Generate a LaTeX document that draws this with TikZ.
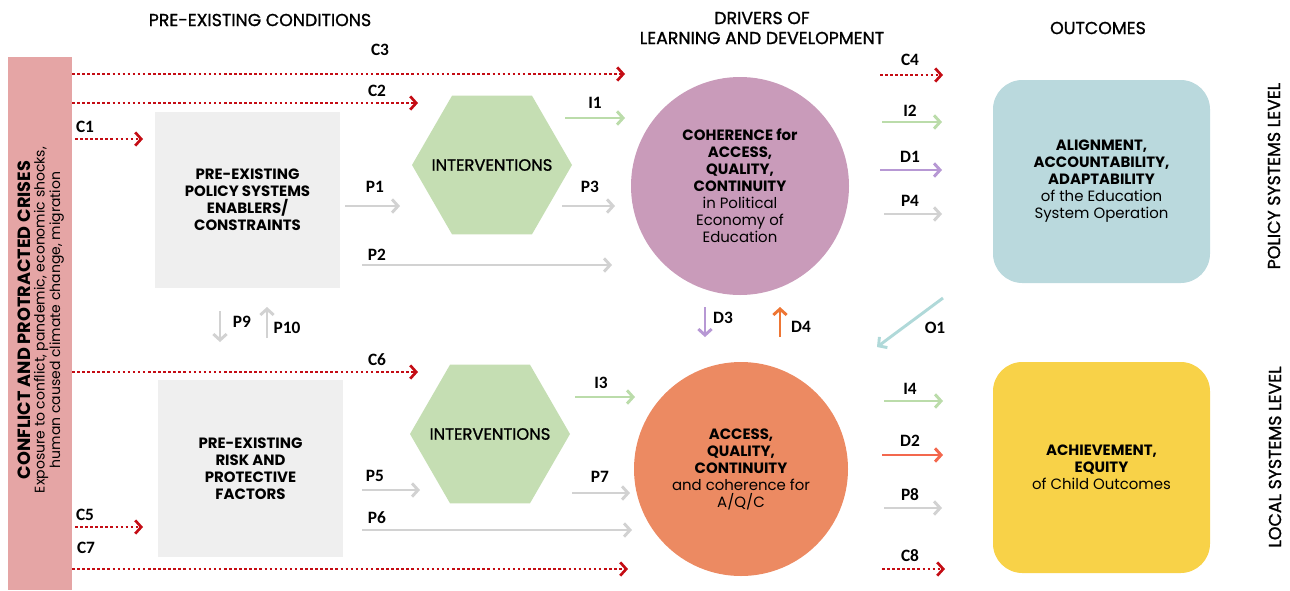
\documentclass[tikz,border=0pt]{standalone}
\usepackage{fontspec}
\setmainfont{Poppins}
\newfontfamily\medfont{Poppins}[FakeBold=1.2]
\newfontfamily\lblfont{Carlito}
\usetikzlibrary{arrows.meta,shapes.geometric}

\definecolor{crisisred}{RGB}{196,12,20}
\definecolor{barpink}{RGB}{229,165,165}
\definecolor{boxgray}{RGB}{239,239,239}
\definecolor{hexgreen}{RGB}{197,222,179}
\definecolor{cohpurple}{RGB}{201,155,186}
\definecolor{accorange}{RGB}{236,138,98}
\definecolor{outblue}{RGB}{186,217,221}
\definecolor{outyellow}{RGB}{248,210,72}
\definecolor{arrgray}{RGB}{210,210,210}
\definecolor{arrgreen}{RGB}{187,220,170}
\definecolor{arrpurple}{RGB}{183,152,212}
\definecolor{arrcoral}{RGB}{243,104,78}
\definecolor{arrorange}{RGB}{238,118,52}
\definecolor{arrteal}{RGB}{176,217,217}

\tikzset{
  txt/.style={align=center, inner sep=0pt, font=\fontsize{11.2}{12.75}\selectfont},
  head/.style={align=center, font=\medfont\fontsize{13}{15}\selectfont},
  lbl/.style={inner sep=0pt, font=\lblfont\bfseries\fontsize{13}{13}\selectfont},
  graybox/.style={txt, fill=boxgray, minimum width=138.75pt, minimum height=132pt},
  hexa/.style={fill=hexgreen, regular polygon, regular polygon sides=6, minimum size=120pt, inner sep=0pt},
  hexlbl/.style={inner sep=0pt, font=\medfont\fontsize{12.3}{14}\selectfont},
  driver/.style={txt, circle},
  outcome/.style={txt, rounded corners=22pt, minimum width=162.75pt},
  flow/.style={line width=2.2pt, -{Straight Barb[length=4.5pt,width=10pt]}},
  crisis/.style={flow, crisisred, line width=2pt, dash pattern=on 1.9pt off 1.9pt},
  pgray/.style={flow, arrgray},
  igreen/.style={flow, arrgreen},
  dpurple/.style={flow, arrpurple},
  dcoral/.style={flow, arrcoral},
  dorange/.style={flow, arrorange},
  oteal/.style={flow, arrteal},
}

\begin{document}
\begin{tikzpicture}[x=0.75pt,y=-0.75pt]
    \useasboundingbox (0,0) rectangle (1290,590);

    % column headings
    \node[head] (hdrPre) at (260,20) {PRE-EXISTING CONDITIONS};
    \node[head] (hdrDrv) at (762,28) {DRIVERS OF\\LEARNING AND DEVELOPMENT};
    \node[head] (hdrOut) at (1098,28) {OUTCOMES};

    % crises bar on the left
    \node[fill=barpink, minimum width=48pt, minimum height=400pt, inner sep=0pt] (bar) at (40,323.5) {};
    \node[rotate=90, align=center, inner sep=0pt, font=\fontsize{10.5}{10.5}\selectfont] (barTxt) at (41,320)
        {{\fontsize{13.3}{14}\selectfont\bfseries CONFLICT AND PROTRACTED CRISES}\\
         Exposure to conflict, pandemic, economic shocks,\\
         human caused climate change, migration};

    % pre-existing conditions
    \node[graybox] (policy) at (247.5,200)
        {\textbf{PRE-EXISTING}\\\textbf{POLICY SYSTEMS}\\\textbf{ENABLERS/}\\\textbf{CONSTRAINTS}};
    \node[graybox, minimum height=132.75pt] (risk) at (250.5,468.5)
        {\textbf{PRE-EXISTING}\\\textbf{RISK AND}\\\textbf{PROTECTIVE}\\\textbf{FACTORS}};

    \node[hexa, label={[hexlbl]center:INTERVENTIONS}] (hexTop) at (492,165) {};
    \node[hexa, label={[hexlbl]center:INTERVENTIONS}] (hexBot) at (490,434) {};

    % drivers
    \node[driver, fill=cohpurple, minimum size=163.5pt] (coherence) at (740,186)
        {\textbf{COHERENCE for}\\\textbf{ACCESS,}\\\textbf{QUALITY,}\\\textbf{CONTINUITY}\\in Political\\Economy of\\Education};
    \node[driver, fill=accorange, minimum size=160.5pt] (access) at (741,469)
        {\textbf{ACCESS,}\\\textbf{QUALITY,}\\\textbf{CONTINUITY}\\and coherence for\\A/Q/C};

    % outcomes
    \node[outcome, fill=outblue, minimum height=152.25pt] (alignment) at (1101.5,181.5)
        {\textbf{ALIGNMENT,}\\\textbf{ACCOUNTABILITY,}\\\textbf{ADAPTABILITY}\\of the Education\\System Operation};
    \node[outcome, fill=outyellow, minimum height=158.25pt] (achievement) at (1101.5,467.5)
        {\textbf{ACHIEVEMENT,}\\\textbf{EQUITY}\\of Child Outcomes};

    \node[head, rotate=90] (lvlPolicy) at (1274,176) {POLICY SYSTEMS LEVEL};
    \node[head, rotate=90] (lvlLocal) at (1275,457) {LOCAL SYSTEMS LEVEL};

    % pathways: name/style/from/to/label
    \foreach \n/\s/\xa/\ya/\xb/\yb/\lx/\ly in {
        C3/crisis/72/74/625/74/380/50,
        C2/crisis/72/103/418/103/377/91,
        C1/crisis/75/139/143/139/85/127,
        C6/crisis/72/372/418/372/377/360,
        C5/crisis/75/527/143/527/85/515,
        C7/crisis/72/569/628/569/86/548,
        C4/crisis/880/75/943/75/910/60,
        C8/crisis/882/569/945/569/910/556,
        I1/igreen/565/118/625/118/595/103,
        I2/igreen/882/122/942/122/910/111,
        I3/igreen/575/397/635/397/601/383,
        I4/igreen/884/401/943/401/910/389,
        P1/pgray/345/206/400/206/375/187,
        P3/pgray/562/206/615/206/590/187,
        P2/pgray/362/265/612/265/377/255,
        P4/pgray/884/214/942/214/910/201,
        P5/pgray/362/490/420/490/375/476,
        P7/pgray/572/493/630/493/600/477,
        P6/pgray/362/530/632/530/377/518,
        P8/pgray/884/508/942/508/910/495,
        P9/pgray/220/311/220/342/242/322,
        P10/pgray/267/338/267/307/287/328,
        D1/dpurple/880/170/942/170/910/157,
        D3/dpurple/705/307/705/337/723/318,
        D2/dcoral/882/455/943/455/910/441,
        D4/dorange/780/337/780/307/801/327,
        O1/oteal/943/298/877/347/935/328} {
        \coordinate (\n-from) at (\xa,\ya);
        \coordinate (\n-to) at (\xb,\yb);
        \draw[\s] (\n-from) -- (\n-to);
        \node[lbl] (\n-lbl) at (\lx,\ly) {\n};
    }
\end{tikzpicture}
\end{document}
